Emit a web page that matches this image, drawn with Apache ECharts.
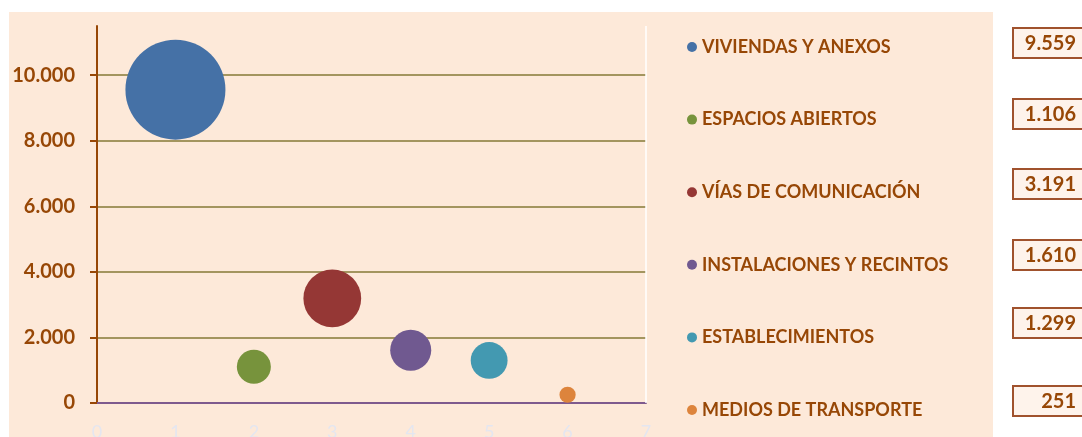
<!DOCTYPE html>
<html>
<head>
<meta charset="utf-8">
<script src="https://cdn.jsdelivr.net/npm/echarts@6/dist/echarts.min.js"></script>
<style>
  html, body { margin: 0; padding: 0; background: #fff; }
  #chart { width: 1082px; height: 437px; }
</style>
</head>
<body>
<div id="chart"></div>
<script>
// datos del grafico
var categories = ['VIVIENDAS Y ANEXOS', 'ESPACIOS ABIERTOS', 'VÍAS DE COMUNICACIÓN',
                  'INSTALACIONES Y RECINTOS', 'ESTABLECIMIENTOS', 'MEDIOS DE TRANSPORTE'];
var xValues = [1, 2, 3, 4, 5, 6];
var values = [9559, 1106, 3191, 1610, 1299, 251];
var yTicks = [0, 2000, 4000, 6000, 8000, 10000];
var xTicks = [0, 1, 2, 3, 4, 5, 6, 7];

var colors = ['#4571A6', '#77933C', '#953735', '#705990', '#4399B1', '#DD843C'];
var brown = '#974706';
var font = 'Lato';

function miles(v) {
    return String(v).replace(/\B(?=(\d{3})+(?!\d))/g, '.');
}

var maxVal = Math.max.apply(null, values);

var myChart = echarts.init(document.getElementById('chart'));

var series = categories.map(function (name, i) {
    return {
        name: name,
        type: 'scatter',
        data: [[xValues[i], values[i], values[i]]],
        symbolSize: function (d) { return Math.sqrt(d[2] / maxVal) * 100; },
        itemStyle: { color: colors[i], opacity: 1 },
        z: 3
    };
});

// cajas con los valores a la derecha
var boxTops = [27, 98, 168, 239, 307, 385];
var boxes = values.map(function (v, i) {
    return {
        type: 'group',
        left: 1012,
        top: boxTops[i],
        children: [
            { type: 'rect', shape: { x: 0, y: 0, width: 90, height: 30 },
              style: { fill: '#FEF3EB', stroke: '#A0522D', lineWidth: 2 } },
            { type: 'text', x: 63, y: 16,
              style: { text: miles(v), fill: brown, font: 'bold 20px ' + font,
                       textAlign: 'right', textVerticalAlign: 'middle' } }
        ]
    };
});

var option = {
    animation: false,
    textStyle: { fontFamily: font },
    graphic: [
        { type: 'rect', left: 9, top: 12, z: -10,
          shape: { width: 984, height: 430 }, style: { fill: '#FDE9D9' } }
    ].concat(boxes),
    grid: { left: 97, right: 436, top: 26, bottom: 34, containLabel: false, outerBoundsMode: 'none' },
    legend: {
        orient: 'vertical',
        left: 687,
        top: 37,
        padding: 0,
        itemWidth: 10,
        itemHeight: 10,
        itemGap: 52.6,
        icon: 'circle',
        data: categories,
        textStyle: { color: brown, fontWeight: 'bold', fontSize: 18, lineHeight: 20, fontFamily: font }
    },
    xAxis: {
        type: 'value',
        min: 0,
        max: 7,
        interval: 1,
        axisLine: { show: true, onZero: false, lineStyle: { color: '#7E5A8E', width: 2 } },
        axisTick: { show: false },
        splitLine: { show: false },
        axisLabel: { color: '#E4E6F0', fontSize: 18, margin: 20, fontFamily: font,
                     customValues: xTicks }
    },
    yAxis: {
        type: 'value',
        min: 0,
        max: 11500,
        interval: 2000,
        axisLine: { show: true, lineStyle: { color: brown, width: 2 } },
        axisTick: { show: true, length: 7, customValues: yTicks, lineStyle: { color: brown, width: 2 } },
        axisLabel: { color: brown, fontWeight: 'bold', fontSize: 20, margin: 22, fontFamily: font,
                     customValues: yTicks, formatter: function (v) { return miles(v); } },
        splitLine: { show: true, lineStyle: { color: ['#A3955F', '#A3955F', '#A3955F', '#A3955F', '#A3955F', '#A3955F', '#F6F0F6'], width: 2 } }
    },
    series: series.concat([{
        // borde derecho blanco del area de trazado
        type: 'line',
        silent: true,
        data: [],
        markLine: {
            silent: true, symbol: 'none', label: { show: false },
            lineStyle: { color: '#FFFFFF', type: 'solid', width: 1.5 },
            data: [{ xAxis: 7 }]
        }
    }])
};

myChart.setOption(option);
</script>
</body>
</html>
